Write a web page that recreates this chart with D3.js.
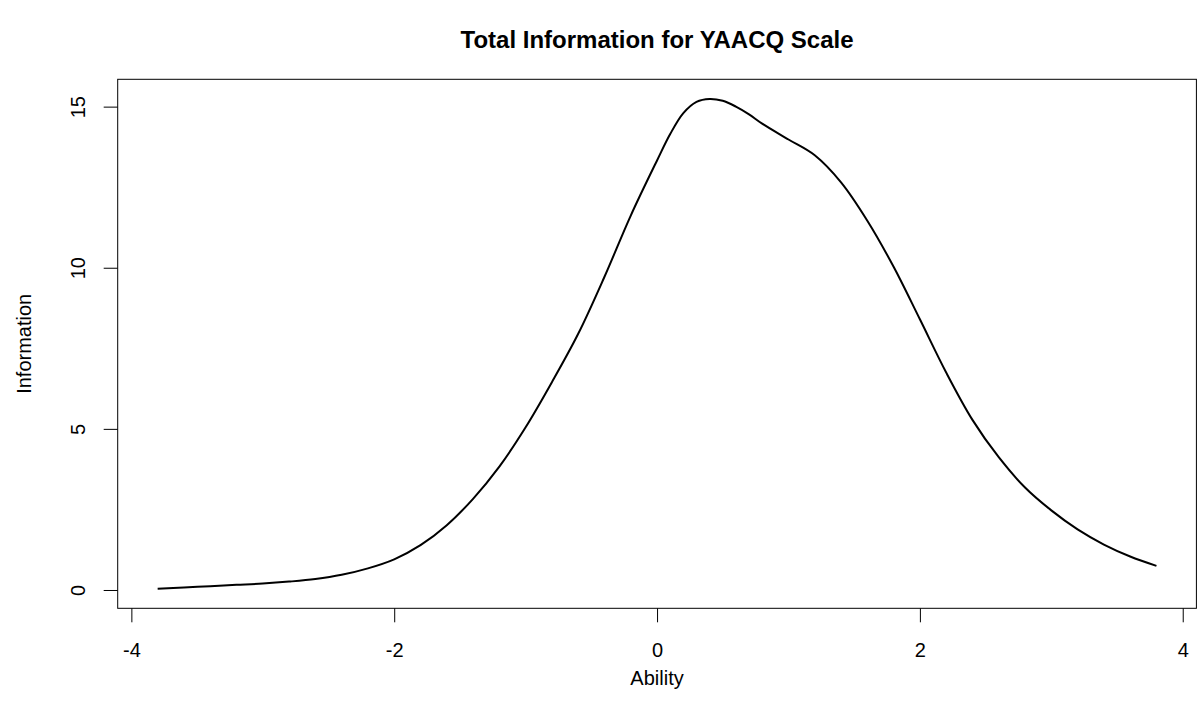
<!DOCTYPE html>
<html>
<head>
<meta charset="utf-8">
<script src="https://cdn.jsdelivr.net/npm/d3@7"></script>
<style>
  html, body { margin: 0; padding: 0; background: #fff; }
  svg { display: block; font-family: "Liberation Sans", Arial, Helvetica, sans-serif; }
</style>
</head>
<body>
<svg id="chart" width="1198" height="723"></svg>
<script>
// Test information function of the YAACQ scale across the ability range
const ability = [-3.8, -3.6, -3.4, -3.2, -3.0, -2.8, -2.6, -2.4, -2.2, -2.0,
                 -1.8, -1.6, -1.4, -1.2, -1.0, -0.8, -0.6, -0.4, -0.2, 0.0,
                 0.1, 0.2, 0.3, 0.4, 0.5, 0.6, 0.7, 0.8, 1.0, 1.2,
                 1.4, 1.6, 1.8, 2.0, 2.2, 2.4, 2.6, 2.8, 3.0, 3.2,
                 3.4, 3.6, 3.8];
const information = [0.04, 0.08, 0.12, 0.16, 0.20, 0.26, 0.34, 0.47, 0.67, 0.95,
                     1.39, 2.01, 2.83, 3.83, 5.05, 6.45, 7.95, 9.72, 11.62, 13.33,
                     14.15, 14.80, 15.15, 15.24, 15.18, 15.00, 14.76, 14.47, 13.98, 13.49,
                     12.65, 11.46, 10.03, 8.40, 6.75, 5.28, 4.12, 3.18, 2.47, 1.88,
                     1.41, 1.04, 0.75];
const xTicks = [-4, -2, 0, 2, 4];
const yTicks = [0, 5, 10, 15];

const chartTitle = "Total Information for YAACQ Scale";
const xTitle = "Ability";
const yTitle = "Information";

const svg = d3.select("#chart");

// plot region
const plotLeft = 117.7, plotRight = 1196.4, plotTop = 79.3, plotBottom = 608.3;

// axis ranges padded by 4% on each side
const xExt = d3.extent(ability), yExt = d3.extent(information);
const xPad = 0.04 * (xExt[1] - xExt[0]);
const yPad = 0.04 * (yExt[1] - yExt[0]);
const x = d3.scaleLinear().domain([xExt[0] - xPad, xExt[1] + xPad]).range([plotLeft, plotRight]);
const y = d3.scaleLinear().domain([yExt[0] - yPad, yExt[1] + yPad]).range([plotBottom, plotTop]);

// frame
svg.append("rect")
  .attr("x", plotLeft).attr("y", plotTop)
  .attr("width", plotRight - plotLeft).attr("height", plotBottom - plotTop)
  .attr("fill", "none").attr("stroke", "#000").attr("stroke-width", 1);

// bottom axis
const xAxis = d3.axisBottom(x).tickValues(xTicks).tickSize(14).tickPadding(20)
  .tickFormat(d => d < 0 ? "-" + Math.abs(d) : String(d));
const gx = svg.append("g").attr("transform", `translate(0,${plotBottom})`).call(xAxis);
gx.select(".domain").remove();
gx.selectAll(".tick line").attr("stroke", "#000");
gx.selectAll(".tick text")
  .attr("font-size", 20).attr("fill", "#000")
  .attr("font-family", "Liberation Sans, Arial, sans-serif")
  .attr("dy", null).attr("y", 49);

// left axis with labels parallel to the axis
const yAxis = d3.axisLeft(y).tickValues(yTicks).tickSize(14).tickFormat(d3.format("d"));
const gy = svg.append("g").attr("transform", `translate(${plotLeft},0)`).call(yAxis);
gy.select(".domain").remove();
gy.selectAll(".tick line").attr("stroke", "#000");
gy.selectAll(".tick text")
  .attr("font-size", 20).attr("fill", "#000")
  .attr("font-family", "Liberation Sans, Arial, sans-serif")
  .attr("x", null).attr("dy", null)
  .attr("text-anchor", "middle")
  .attr("transform", "translate(-33,0) rotate(-90)");

// information curve
const line = d3.line()
  .x((d, i) => x(ability[i]))
  .y(d => y(d))
  .curve(d3.curveCatmullRom.alpha(0.5));
svg.append("path")
  .attr("d", line(information))
  .attr("fill", "none").attr("stroke", "#000")
  .attr("stroke-width", 2).attr("stroke-linejoin", "round");

// titles
const cx = (plotLeft + plotRight) / 2, cy = (plotTop + plotBottom) / 2;
svg.append("text")
  .attr("x", cx).attr("y", 48)
  .attr("text-anchor", "middle").attr("font-size", 24).attr("font-weight", "bold")
  .text(chartTitle);
svg.append("text")
  .attr("x", cx).attr("y", 685)
  .attr("text-anchor", "middle").attr("font-size", 20)
  .text(xTitle);
svg.append("text")
  .attr("transform", `translate(31,${cy}) rotate(-90)`)
  .attr("text-anchor", "middle").attr("font-size", 20)
  .text(yTitle);
</script>
</body>
</html>
